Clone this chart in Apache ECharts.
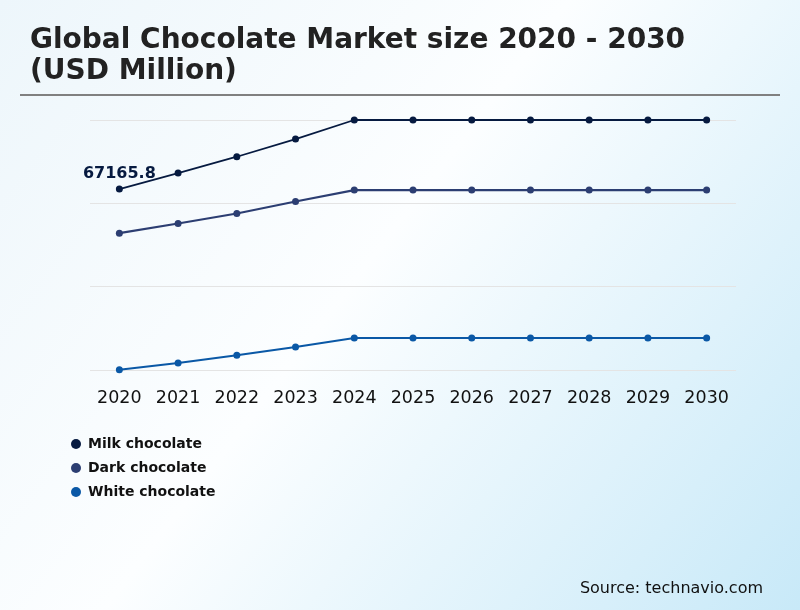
<!DOCTYPE html>
<html>
<head>
<meta charset="utf-8">
<script src="https://cdn.jsdelivr.net/npm/echarts@6/dist/echarts.min.js"></script>
<style>
html,body{margin:0;padding:0;}
#c{width:800px;height:610px;}
</style>
</head>
<body>
<div id="c"></div>
<script>
var years = ['2020','2021','2022','2023','2024','2025','2026','2027','2028','2029','2030'];
var milkChocolate = [67165.8, 71234, 75382, 79886, 84720, 84720, 84720, 84720, 84720, 84720, 84720];
var darkChocolate = [55966, 58409, 60954, 64007, 66908, 66908, 66908, 66908, 66908, 66908, 66908];
var whiteChocolate = [21256, 22961, 24921, 27033, 29323, 29323, 29323, 29323, 29323, 29323, 29323];
var seriesNames = ['Milk chocolate', 'Dark chocolate', 'White chocolate'];
var yMin = 21180, yMax = 84720, yStep = 21180;

var chart = echarts.init(document.getElementById('c'));
var colors = ['#061a40', '#2c3e72', '#0a58a6'];
chart.setOption({
  backgroundColor: {
    type: 'linear', x: 0, y: 0, x2: 1, y2: 1,
    colorStops: [
      {offset: 0, color: '#edf6fb'},
      {offset: 0.45, color: '#fcfeff'},
      {offset: 1, color: '#c8e9f8'}
    ]
  },
  color: colors,
  title: {
    text: 'Global Chocolate Market size 2020 - 2030\n(USD Million)',
    left: 25, top: 20,
    textStyle: {
      fontFamily: 'DejaVu Sans', fontWeight: 'bold', fontSize: 28,
      lineHeight: 31, color: '#222'
    }
  },
  graphic: [
    {type: 'line', shape: {x1: 20, y1: 95, x2: 780, y2: 95}, style: {stroke: '#808080', lineWidth: 2}},
    {type: 'text', right: 37, top: 581, style: {text: 'Source: technavio.com', fill: '#111', font: '16px DejaVu Sans'}}
  ],
  legend: {
    orient: 'vertical', left: 66, top: 432, itemGap: 10,
    icon: 'circle', itemWidth: 10, itemHeight: 10,
    data: seriesNames,
    textStyle: {fontFamily: 'DejaVu Sans', fontWeight: 'bold', fontSize: 14, color: '#111', padding: [0, 0, 0, 2]}
  },
  grid: {left: 90, right: 64, top: 120, bottom: 240},
  xAxis: {
    type: 'category', data: years, boundaryGap: true,
    axisLine: {show: false}, axisTick: {show: false},
    axisLabel: {interval: 0, fontFamily: 'DejaVu Sans', fontSize: 17.5, color: '#111', margin: 19}
  },
  yAxis: {
    type: 'value', min: yMin, max: yMax, interval: yStep,
    axisLabel: {show: false}, axisLine: {show: false}, axisTick: {show: false},
    splitLine: {lineStyle: {color: '#e4e4e4', width: 1}}
  },
  series: [
    {
      name: seriesNames[0], type: 'line', data: milkChocolate,
      symbol: 'circle', symbolSize: 7, lineStyle: {width: 1.8},
      label: {
        show: true, position: 'top', distance: 4,
        formatter: function (p) { return p.dataIndex === 0 ? p.value : ''; },
        fontFamily: 'DejaVu Sans', fontWeight: 'bold', fontSize: 16, color: '#061a40'
      }
    },
    {
      name: seriesNames[1], type: 'line', data: darkChocolate,
      symbol: 'circle', symbolSize: 7, lineStyle: {width: 2.2}
    },
    {
      name: seriesNames[2], type: 'line', data: whiteChocolate,
      symbol: 'circle', symbolSize: 7, lineStyle: {width: 2}
    }
  ]
});
</script>
</body>
</html>
